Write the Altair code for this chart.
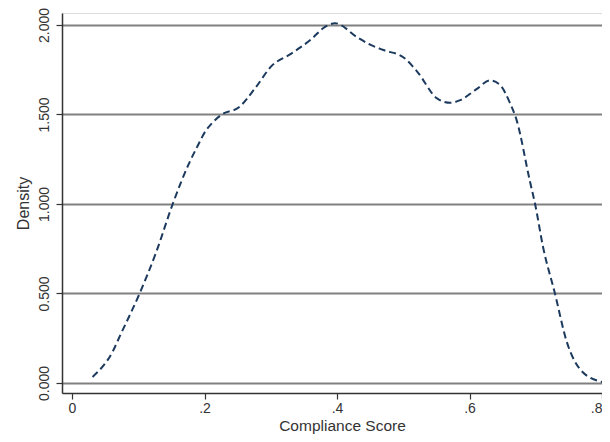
import altair as alt
import pandas as pd

score = [0.031, 0.062, 0.072, 0.102, 0.127, 0.152, 0.177, 0.189, 0.202, 0.211,
         0.226, 0.252, 0.277, 0.301, 0.331, 0.361, 0.382, 0.397, 0.431, 0.450,
         0.470, 0.500, 0.521, 0.551, 0.571, 0.586, 0.610, 0.631, 0.646, 0.661,
         0.671, 0.691, 0.699, 0.711, 0.729, 0.746, 0.771, 0.801]
density = [0.034, 0.18, 0.26, 0.50, 0.73, 1.00, 1.23, 1.32, 1.41, 1.45,
           1.50, 1.54, 1.65, 1.77, 1.84, 1.92, 1.99, 2.01, 1.93, 1.89,
           1.86, 1.82, 1.74, 1.59, 1.565, 1.58, 1.64, 1.69, 1.665, 1.565,
           1.47, 1.13, 1.00, 0.76, 0.50, 0.24, 0.06, 0.005]

x_ticks = [0, 0.2, 0.4, 0.6, 0.8]
y_ticks = [0, 0.5, 1.0, 1.5, 2.0]

df = pd.DataFrame({"score": score, "density": density})

font = "Liberation Sans"

chart = alt.Chart(df).mark_line(
    color="#1c3a5e", strokeWidth=2, strokeDash=[7, 4], interpolate="monotone", clip=True
).encode(
    x=alt.X("score:Q", title="Compliance Score",
            scale=alt.Scale(domain=[-0.0151, 0.8], nice=False, zero=False),
            axis=alt.Axis(values=x_ticks, grid=False,
                          labelExpr="datum.value == 0 ? '0' : replace(format(datum.value, '.1f'), '0.', '.')",
                          labelAlign=alt.ExprRef("datum.value >= 0.79 ? 'right' : 'center'"),
                          labelFont=font, labelFontSize=14, labelColor="#333333",
                          labelPadding=2, tickSize=6, tickColor="#333333",
                          domainColor="#333333", domainWidth=1.5, tickWidth=1.2,
                          titleFont=font, titleFontSize=15.5, titleFontWeight="normal",
                          titleColor="#333333", titleX=280, titleY=37,
                          titleBaseline="alphabetic",
                          labelOverlap=False, labelFlush=False)),
    y=alt.Y("density:Q", title="Density",
            scale=alt.Scale(domain=[-0.0559, 2.067], nice=False, zero=False),
            axis=alt.Axis(values=y_ticks, format=".3f", grid=True,
                          gridColor="#808080", gridWidth=1.8,
                          labelAngle=270, labelAlign="center", labelBaseline="bottom",
                          labelFont=font, labelFontSize=14, labelColor="#333333",
                          labelPadding=5, tickSize=6, tickColor="#333333",
                          domainColor="#333333", domainWidth=1.5, tickWidth=1.2,
                          titleFont=font, titleFontSize=16, titleFontWeight="normal",
                          titleColor="#333333", titlePadding=6,
                          labelOverlap=False, labelFlush=False)),
).properties(
    width=540, height=380,
    autosize=alt.AutoSizeParams(type="none"),
    padding={"left": 54, "top": 5, "right": 0, "bottom": 41},
).configure_view(stroke=None).configure(background="white")

chart.save("out.html", embed_options={"renderer": "svg", "actions": False})
